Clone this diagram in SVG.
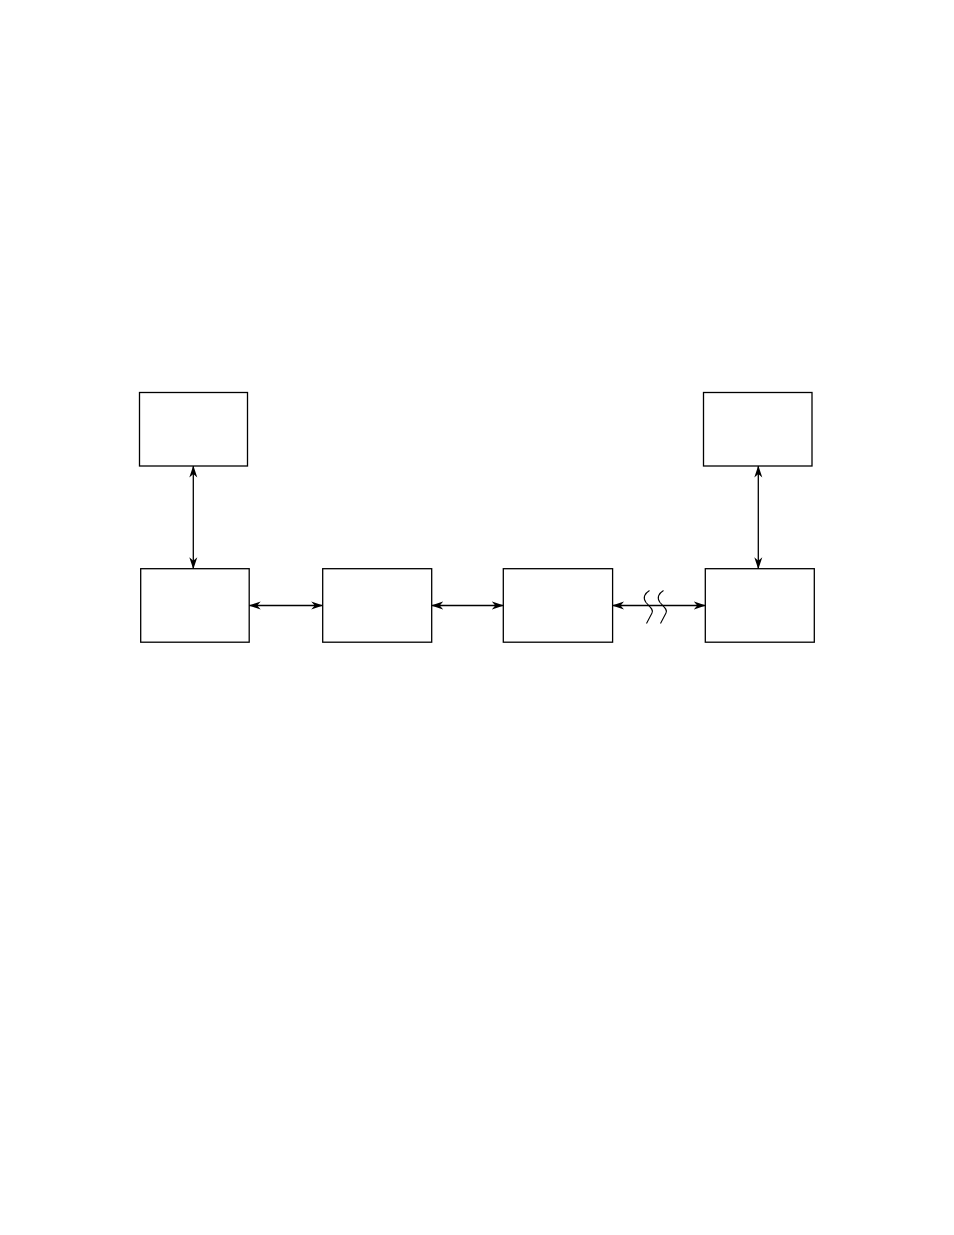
<svg xmlns="http://www.w3.org/2000/svg" width="954" height="1235" viewBox="0 0 954 1235">
<style>
.box{fill:#fff;stroke:#000;stroke-width:1.3}
.conn{fill:none;stroke:#000;stroke-width:1.3}
.sq{fill:none;stroke:#000;stroke-width:1.1}
</style>
<defs>
<marker id="ah" viewBox="0 -5 12 10" refX="11.5" refY="0" markerWidth="12" markerHeight="10" markerUnits="userSpaceOnUse" orient="auto-start-reverse">
<path d="M12,0 L0,-4 L3.5,0 L0,4 Z" fill="#000"/>
</marker>
</defs>
<rect width="954" height="1235" fill="#fff"/>
<g id="node-top-left"><rect class="box" x="139.5" y="392.5" width="108" height="73.5"/></g>
<g id="node-top-right"><rect class="box" x="703.5" y="392.5" width="108.5" height="73.5"/></g>
<g id="node-bottom-1"><rect class="box" x="140.7" y="568.7" width="108.5" height="73.5"/></g>
<g id="node-bottom-2"><rect class="box" x="322.7" y="568.7" width="109" height="73.5"/></g>
<g id="node-bottom-3"><rect class="box" x="503.3" y="568.7" width="109.3" height="73.5"/></g>
<g id="node-bottom-4"><rect class="box" x="705.3" y="568.7" width="109" height="73.5"/></g>
<g id="connectors">
<line class="conn" x1="193.3" y1="466" x2="193.3" y2="568.7" marker-start="url(#ah)" marker-end="url(#ah)"/>
<line class="conn" x1="758.3" y1="466" x2="758.3" y2="568.7" marker-start="url(#ah)" marker-end="url(#ah)"/>
<line class="conn" x1="249.2" y1="605.5" x2="322.7" y2="605.5" marker-start="url(#ah)" marker-end="url(#ah)"/>
<line class="conn" x1="431.7" y1="605.5" x2="503.3" y2="605.5" marker-start="url(#ah)" marker-end="url(#ah)"/>
<line class="conn" x1="612.6" y1="605.5" x2="705.3" y2="605.5" marker-start="url(#ah)" marker-end="url(#ah)"/>
<path class="sq" d="M649.5,590.5 C644.5,593.5 642.5,598 646,602.5 C649.5,606.5 654,609.5 652,613 L646.5,623.5"/>
<path class="sq" d="M663.5,590.5 C658.5,593.5 656.5,598 660,602.5 C663.5,606.5 668,609.5 666,613 L660.5,623.5"/>
</g>
</svg>
